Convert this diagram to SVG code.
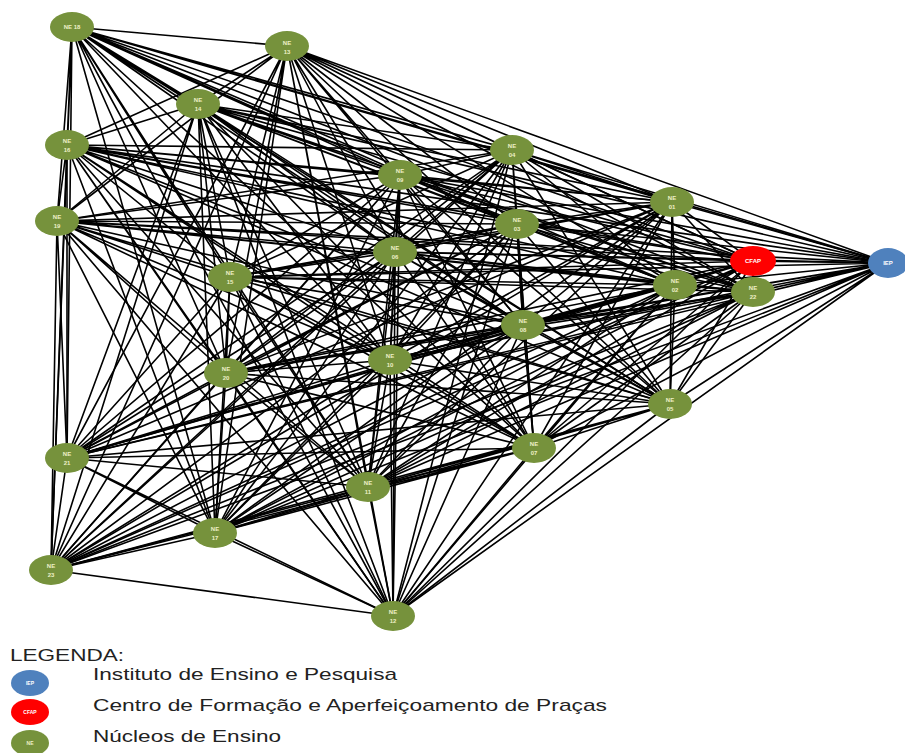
<svg xmlns="http://www.w3.org/2000/svg" width="905" height="753" viewBox="0 0 905 753">
<style>
.e{fill:none;stroke:#000;stroke-width:1.6;stroke-linecap:round}
.ne{fill:#76923c}
.cf{fill:#ff0000}
.ie{fill:#4f81bd}
.lb{font-family:"Liberation Sans",Arial,sans-serif;font-size:6px;font-weight:bold;fill:#eef0c8;text-anchor:middle}
.lg{font-family:"Liberation Sans",Arial,sans-serif;font-size:17px;fill:#222}
</style>
<rect width="905" height="753" fill="#fff"/>
<g id="connectors" class="e">
<path d="M72 27L287 46M72 27L198 104M72 27L67 145M72 27L512 150M72 27L400 175M72 27L57 221M72 27L517 224M72 27L672 202M72 27L753 261M72 27L888 263M72 27L675 285M72 27L753 292M72 27L395 252M72 27L230 277M72 27L523 325M72 27L390 360M72 27L226 373M72 27L670 404M72 27L67 458M72 27L534 448M72 27L368 487M72 27L215 533M72 27L51 570M72 27L393 616"/>
<path d="M287 46L198 104M287 46L67 145M287 46L512 150M287 46L400 175M287 46L57 221M287 46L517 224M287 46L672 202M287 46L753 261M287 46L888 263M287 46L675 285M287 46L753 292M287 46L395 252M287 46L230 277M287 46L523 325M287 46L390 360M287 46L226 373M287 46L670 404M287 46L67 458M287 46L534 448M287 46L368 487M287 46L215 533M287 46L51 570M287 46L393 616"/>
<path d="M198 104L67 145M198 104L512 150M198 104L400 175M198 104L57 221M198 104L517 224M198 104L672 202M198 104L753 261M198 104L888 263M198 104L675 285M198 104L753 292M198 104L395 252M198 104L230 277M198 104L523 325M198 104L390 360M198 104L226 373M198 104L670 404M198 104L67 458M198 104L534 448M198 104L368 487M198 104L215 533M198 104L51 570M198 104L393 616"/>
<path d="M67 145L512 150M67 145L400 175M67 145L57 221M67 145L517 224M67 145L672 202M67 145L753 261M67 145L888 263M67 145L675 285M67 145L753 292M67 145L395 252M67 145L230 277M67 145L523 325M67 145L390 360M67 145L226 373M67 145L670 404M67 145L67 458M67 145L534 448M67 145L368 487M67 145L215 533M67 145L51 570M67 145L393 616"/>
<path d="M512 150L400 175M512 150L57 221M512 150L517 224M512 150L672 202M512 150L753 261M512 150L888 263M512 150L675 285M512 150L753 292M512 150L395 252M512 150L230 277M512 150L523 325M512 150L390 360M512 150L226 373M512 150L670 404M512 150L67 458M512 150L534 448M512 150L368 487M512 150L215 533M512 150L51 570M512 150L393 616"/>
<path d="M400 175L57 221M400 175L517 224M400 175L672 202M400 175L753 261M400 175L888 263M400 175L675 285M400 175L753 292M400 175L395 252M400 175L230 277M400 175L523 325M400 175L390 360M400 175L226 373M400 175L670 404M400 175L67 458M400 175L534 448M400 175L368 487M400 175L215 533M400 175L51 570M400 175L393 616"/>
<path d="M57 221L517 224M57 221L672 202M57 221L753 261M57 221L888 263M57 221L675 285M57 221L753 292M57 221L395 252M57 221L230 277M57 221L523 325M57 221L390 360M57 221L226 373M57 221L670 404M57 221L67 458M57 221L534 448M57 221L368 487M57 221L215 533M57 221L51 570M57 221L393 616"/>
<path d="M517 224L672 202M517 224L753 261M517 224L888 263M517 224L675 285M517 224L753 292M517 224L395 252M517 224L230 277M517 224L523 325M517 224L390 360M517 224L226 373M517 224L670 404M517 224L67 458M517 224L534 448M517 224L368 487M517 224L215 533M517 224L51 570M517 224L393 616"/>
<path d="M672 202L753 261M672 202L888 263M672 202L675 285M672 202L753 292M672 202L395 252M672 202L230 277M672 202L523 325M672 202L390 360M672 202L226 373M672 202L670 404M672 202L67 458M672 202L534 448M672 202L368 487M672 202L215 533M672 202L51 570M672 202L393 616"/>
<path d="M753 261L888 263M753 261L675 285M753 261L753 292M753 261L395 252M753 261L230 277M753 261L523 325M753 261L390 360M753 261L226 373M753 261L670 404M753 261L67 458M753 261L534 448M753 261L368 487M753 261L215 533M753 261L51 570M753 261L393 616"/>
<path d="M888 263L675 285M888 263L753 292M888 263L395 252M888 263L230 277M888 263L523 325M888 263L390 360M888 263L226 373M888 263L670 404M888 263L67 458M888 263L534 448M888 263L368 487M888 263L215 533M888 263L51 570M888 263L393 616"/>
<path d="M675 285L753 292M675 285L395 252M675 285L230 277M675 285L523 325M675 285L390 360M675 285L226 373M675 285L670 404M675 285L67 458M675 285L534 448M675 285L368 487M675 285L215 533M675 285L51 570M675 285L393 616"/>
<path d="M753 292L395 252M753 292L230 277M753 292L523 325M753 292L390 360M753 292L226 373M753 292L670 404M753 292L67 458M753 292L534 448M753 292L368 487M753 292L215 533M753 292L51 570M753 292L393 616"/>
<path d="M395 252L230 277M395 252L523 325M395 252L390 360M395 252L226 373M395 252L670 404M395 252L67 458M395 252L534 448M395 252L368 487M395 252L215 533M395 252L51 570M395 252L393 616"/>
<path d="M230 277L523 325M230 277L390 360M230 277L226 373M230 277L670 404M230 277L67 458M230 277L534 448M230 277L368 487M230 277L215 533M230 277L51 570M230 277L393 616"/>
<path d="M523 325L390 360M523 325L226 373M523 325L670 404M523 325L67 458M523 325L534 448M523 325L368 487M523 325L215 533M523 325L51 570M523 325L393 616"/>
<path d="M390 360L226 373M390 360L670 404M390 360L67 458M390 360L534 448M390 360L368 487M390 360L215 533M390 360L51 570M390 360L393 616"/>
<path d="M226 373L670 404M226 373L67 458M226 373L534 448M226 373L368 487M226 373L215 533M226 373L51 570M226 373L393 616"/>
<path d="M670 404L67 458M670 404L534 448M670 404L368 487M670 404L215 533M670 404L51 570M670 404L393 616"/>
<path d="M67 458L534 448M67 458L368 487M67 458L215 533M67 458L51 570M67 458L393 616"/>
<path d="M534 448L368 487M534 448L215 533M534 448L51 570M534 448L393 616"/>
<path d="M368 487L215 533M368 487L51 570M368 487L393 616"/>
<path d="M215 533L51 570M215 533L393 616"/>
<path d="M51 570L393 616"/>
</g>
<g id="ne18"><ellipse class="ne" cx="72" cy="27" rx="22" ry="15"/><text class="lb" x="72" y="29">NE 18</text></g>
<g id="ne13"><ellipse class="ne" cx="287" cy="46" rx="22" ry="15"/><text class="lb" x="287" y="45">NE<tspan x="287" dy="9">13</tspan></text></g>
<g id="ne14"><ellipse class="ne" cx="198" cy="104" rx="22" ry="15"/><text class="lb" x="198" y="102">NE<tspan x="198" dy="9">14</tspan></text></g>
<g id="ne16"><ellipse class="ne" cx="67" cy="145" rx="22" ry="15"/><text class="lb" x="67" y="143">NE<tspan x="67" dy="9">16</tspan></text></g>
<g id="ne04"><ellipse class="ne" cx="512" cy="150" rx="22" ry="15"/><text class="lb" x="512" y="148">NE<tspan x="512" dy="9">04</tspan></text></g>
<g id="ne09"><ellipse class="ne" cx="400" cy="175" rx="22" ry="15"/><text class="lb" x="400" y="173">NE<tspan x="400" dy="9">09</tspan></text></g>
<g id="ne19"><ellipse class="ne" cx="57" cy="221" rx="22" ry="15"/><text class="lb" x="57" y="219">NE<tspan x="57" dy="9">19</tspan></text></g>
<g id="ne03"><ellipse class="ne" cx="517" cy="224" rx="22" ry="15"/><text class="lb" x="517" y="222">NE<tspan x="517" dy="9">03</tspan></text></g>
<g id="ne01"><ellipse class="ne" cx="672" cy="202" rx="22" ry="15"/><text class="lb" x="672" y="200">NE<tspan x="672" dy="9">01</tspan></text></g>
<g id="cfap"><ellipse class="cf" cx="753" cy="261" rx="23" ry="15"/><text class="lb" x="753" y="263" style="fill:#fff">CFAP</text></g>
<g id="iep"><ellipse class="ie" cx="888" cy="263" rx="20" ry="15"/><text class="lb" x="888" y="265" style="fill:#fff">IEP</text></g>
<g id="ne02"><ellipse class="ne" cx="675" cy="285" rx="22" ry="15"/><text class="lb" x="675" y="283">NE<tspan x="675" dy="9">02</tspan></text></g>
<g id="ne22"><ellipse class="ne" cx="753" cy="292" rx="22" ry="15"/><text class="lb" x="753" y="290">NE<tspan x="753" dy="9">22</tspan></text></g>
<g id="ne06"><ellipse class="ne" cx="395" cy="252" rx="22" ry="15"/><text class="lb" x="395" y="250">NE<tspan x="395" dy="9">06</tspan></text></g>
<g id="ne15"><ellipse class="ne" cx="230" cy="277" rx="22" ry="15"/><text class="lb" x="230" y="275">NE<tspan x="230" dy="9">15</tspan></text></g>
<g id="ne08"><ellipse class="ne" cx="523" cy="325" rx="22" ry="15"/><text class="lb" x="523" y="323">NE<tspan x="523" dy="9">08</tspan></text></g>
<g id="ne10"><ellipse class="ne" cx="390" cy="360" rx="22" ry="15"/><text class="lb" x="390" y="358">NE<tspan x="390" dy="9">10</tspan></text></g>
<g id="ne20"><ellipse class="ne" cx="226" cy="373" rx="22" ry="15"/><text class="lb" x="226" y="371">NE<tspan x="226" dy="9">20</tspan></text></g>
<g id="ne05"><ellipse class="ne" cx="670" cy="404" rx="22" ry="15"/><text class="lb" x="670" y="402">NE<tspan x="670" dy="9">05</tspan></text></g>
<g id="ne21"><ellipse class="ne" cx="67" cy="458" rx="22" ry="15"/><text class="lb" x="67" y="456">NE<tspan x="67" dy="9">21</tspan></text></g>
<g id="ne07"><ellipse class="ne" cx="534" cy="448" rx="22" ry="15"/><text class="lb" x="534" y="446">NE<tspan x="534" dy="9">07</tspan></text></g>
<g id="ne11"><ellipse class="ne" cx="368" cy="487" rx="22" ry="15"/><text class="lb" x="368" y="485">NE<tspan x="368" dy="9">11</tspan></text></g>
<g id="ne17"><ellipse class="ne" cx="215" cy="533" rx="22" ry="15"/><text class="lb" x="215" y="531">NE<tspan x="215" dy="9">17</tspan></text></g>
<g id="ne23"><ellipse class="ne" cx="51" cy="570" rx="22" ry="15"/><text class="lb" x="51" y="568">NE<tspan x="51" dy="9">23</tspan></text></g>
<g id="ne12"><ellipse class="ne" cx="393" cy="616" rx="22" ry="15"/><text class="lb" x="393" y="614">NE<tspan x="393" dy="9">12</tspan></text></g>
<g id="legend">
<text class="lg" x="10" y="661" textLength="114" lengthAdjust="spacingAndGlyphs">LEGENDA:</text>
<ellipse class="ie" cx="30" cy="683" rx="19" ry="13"/><text class="lb" x="30" y="685" style="fill:#fff;font-size:5px">IEP</text>
<text class="lg" x="93" y="680" textLength="304" lengthAdjust="spacingAndGlyphs">Instituto de Ensino e Pesquisa</text>
<ellipse class="cf" cx="30" cy="712" rx="19" ry="13"/><text class="lb" x="30" y="714" style="fill:#fff;font-size:5px">CFAP</text>
<text class="lg" x="93" y="711" textLength="514" lengthAdjust="spacingAndGlyphs">Centro de Formação e Aperfeiçoamento de Praças</text>
<ellipse class="ne" cx="30" cy="743" rx="19" ry="13"/><text class="lb" x="30" y="745" style="font-size:5px">NE</text>
<text class="lg" x="93" y="742" textLength="188" lengthAdjust="spacingAndGlyphs">Núcleos de Ensino</text>
</g>
</svg>
